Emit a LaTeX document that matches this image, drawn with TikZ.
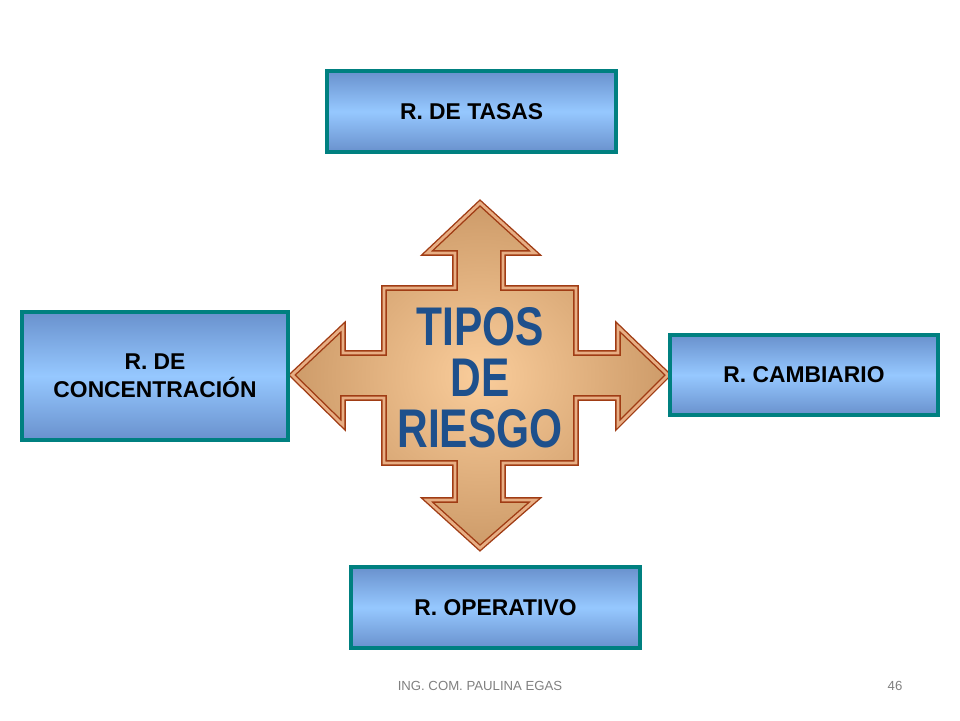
\documentclass[tikz,border=0pt]{standalone}
\usepackage{fontspec}
\setmainfont{Liberation Sans}
\usepackage{graphicx}
\definecolor{tealline}{RGB}{0,128,128}
\definecolor{boxdark}{RGB}{105,145,205}
\definecolor{boxlight}{RGB}{150,200,255}
\definecolor{arrowline}{RGB}{160,60,20}
\definecolor{arrowin}{RGB}{250,205,155}
\definecolor{arrowout}{RGB}{205,155,105}
\definecolor{titleblue}{RGB}{30,80,140}
\tikzset{
  riskbox/.style={draw=tealline, line width=2.2pt, top color=boxdark, bottom color=boxdark,
    middle color=boxlight, font=\bfseries\fontsize{13}{14}\selectfont, align=center,
    inner sep=0pt},
  foot/.style={text=gray, font=\fontsize{7.5}{9}\selectfont}
}
\begin{document}
\begin{tikzpicture}[x=0.02cm,y=-0.02cm]
		\useasboundingbox (0,0) rectangle (960,720);
		% cruz de flechas
		\draw[arrowline, line width=0.8pt, double=arrowline!50!orange!50!white, double distance=1.6pt,
		      inner color=arrowin, outer color=arrowout]
		  (480,203) -- (535,253) -- (503,253) -- (503,288) -- (576,288) -- (576,353)
		  -- (618,353) -- (618,327) -- (668,375) -- (618,425) -- (618,398) -- (576,398)
		  -- (576,463) -- (503,463) -- (503,500) -- (535,500) -- (480,548) -- (427,500)
		  -- (455,500) -- (455,463) -- (384,463) -- (384,398) -- (343,398) -- (343,425)
		  -- (292,375) -- (343,327) -- (343,353) -- (384,353) -- (384,288) -- (455,288)
		  -- (455,253) -- (427,253) -- cycle;
		\node[text=titleblue, font=\bfseries\fontsize{31}{29}\selectfont, align=center] (tipos) at (480,378)
		  {\scalebox{0.78}[1]{TIPOS}\\\scalebox{0.78}[1]{DE}\\\scalebox{0.78}[1]{RIESGO}};
		
		% cajas
		\node[riskbox, minimum width=5.78cm, minimum height=1.62cm] (tasas) at (471.5,111.5) {R. DE TASAS};
		\node[riskbox, minimum width=5.32cm, minimum height=2.56cm, font=\bfseries\fontsize{13}{16}\selectfont] (concentr) at (155,376) {R. DE\\CONCENTRACIÓN};
		\node[riskbox, minimum width=5.36cm, minimum height=1.6cm] (cambiario) at (804,375) {R. CAMBIARIO};
		\node[riskbox, minimum width=5.78cm, minimum height=1.62cm] (operativo) at (495.5,607.5) {R. OPERATIVO};
		
		\node[foot] (autor) at (480,686) {ING. COM. PAULINA EGAS};
		\node[foot] (pagina) at (895,686) {46};
\end{tikzpicture}
\end{document}
